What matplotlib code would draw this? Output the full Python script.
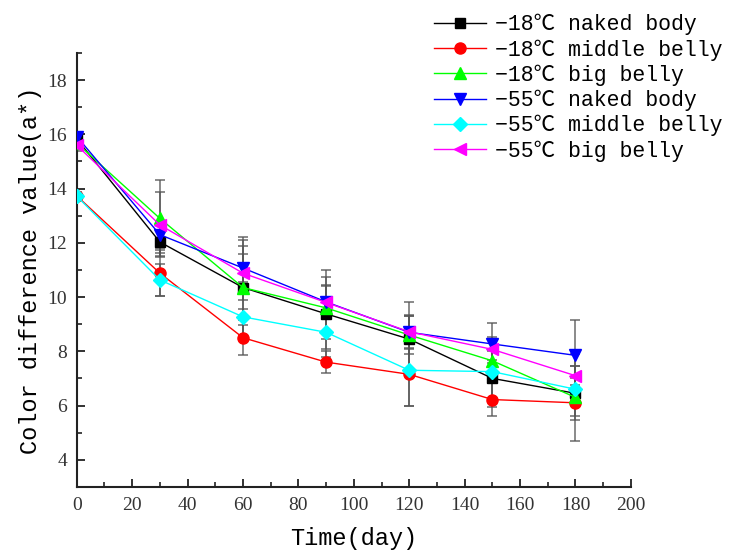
import numpy as np
import matplotlib
matplotlib.use('Agg')
from matplotlib import pyplot as plt
from matplotlib.ticker import MultipleLocator

days = [0, 30, 60, 90, 120, 150, 180]

labels = ['\u221218\u2103 naked body',
          '\u221218\u2103 middle belly',
          '\u221218\u2103 big belly',
          '\u221255\u2103 naked body',
          '\u221255\u2103 middle belly',
          '\u221255\u2103 big belly',
          ]

# a* values
n18_naked = [15.83, 12.03, 10.35, 9.38, 8.45, 7.00, 6.45]
n18_middle = [13.73, 10.88, 8.50, 7.60, 7.15, 6.22, 6.10]
n18_big = [15.68, 12.90, 10.35, 9.60, 8.60, 7.65, 6.30]
n55_naked = [15.92, 12.30, 11.07, 9.82, 8.70, 8.27, 7.85]
n55_middle = [13.72, 10.63, 9.27, 8.70, 7.30, 7.25, 6.60]
n55_big = [15.60, 12.66, 10.88, 9.80, 8.72, 8.07, 7.10]

# error bars (sd)
n18_naked_err = [0.15, 0.40, 1.75, 1.60, 1.35, 1.05, 1.00]
n18_middle_err = [0.15, 0.85, 0.65, 0.40, 1.15, 0.60, 0.47]
n18_big_err = [0.20, 1.40, 1.85, 1.15, 0.70, 1.40, 1.60]
n55_naked_err = [0.12, 0.50, 0.52, 0.62, 0.60, 0.25, 1.30]
n55_middle_err = [0.10, 0.60, 0.30, 0.60, 1.30, 0.30, 0.40]
n55_big_err = [0.20, 1.20, 1.00, 0.60, 0.60, 0.40, 0.35]

series = [n18_naked, n18_middle, n18_big, n55_naked, n55_middle, n55_big]
errors = [n18_naked_err, n18_middle_err, n18_big_err,
          n55_naked_err, n55_middle_err, n55_big_err]
colors = ['#000000', '#ff0000', '#00ff00', '#0000ff', '#00ffff', '#ff00ff']
markers = ['s', 'o', '^', 'v', 'D', '<']
msizes = [7, 8, 8, 8, 7, 8]

txt_font = ['Liberation Mono', 'Noto Sans CJK SC', 'DejaVu Sans']

fig = plt.figure(figsize=(7.31, 5.52), dpi=100)
ax = fig.add_axes([0.105, 0.118, 0.758, 0.786])

handles = []
for i in range(len(series)):
    ax.errorbar(days, series[i], yerr=errors[i], fmt='none',
                ecolor='#555555', elinewidth=1.2, capsize=3.5,
                capthick=1.2, alpha=0.8, zorder=2)
    h, = ax.plot(days, series[i], color=colors[i], lw=1.0,
                 marker=markers[i], ms=msizes[i], mec=colors[i],
                 mfc=colors[i], zorder=3)
    handles.append(h)

ax.set_xlim(0, 200)
ax.set_ylim(3, 19)
ax.xaxis.set_major_locator(MultipleLocator(20))
ax.xaxis.set_minor_locator(MultipleLocator(10))
ax.set_yticks(np.arange(4, 19, 2))
ax.yaxis.set_minor_locator(MultipleLocator(1))

for s in ['top', 'right']:
    ax.spines[s].set_visible(False)
for s in ['left', 'bottom']:
    ax.spines[s].set_linewidth(1.5)
    ax.spines[s].set_color('#222222')

ax.tick_params(which='major', direction='in', length=6, width=1.3,
               color='#222222', labelsize=14, pad=7)
ax.tick_params(which='minor', direction='in', length=3.5, width=1.2,
               color='#222222')
for lab in ax.get_xticklabels() + ax.get_yticklabels():
    lab.set_family('Liberation Serif')
    lab.set_color('#333333')

ax.set_xlabel('Time(day)', family=txt_font, fontsize=17, labelpad=10)
ax.set_ylabel('Color difference value(a*)', family=txt_font,
              fontsize=17, labelpad=4)

fig.legend(handles, labels, loc='upper left',
           bbox_to_anchor=(0.575, 1.0), frameon=False,
           prop={'family': txt_font, 'size': 15.5},
           labelspacing=0.18, handlelength=2.4, handletextpad=0.4,
           borderaxespad=0.25)

fig.savefig('out.png', dpi=100)
